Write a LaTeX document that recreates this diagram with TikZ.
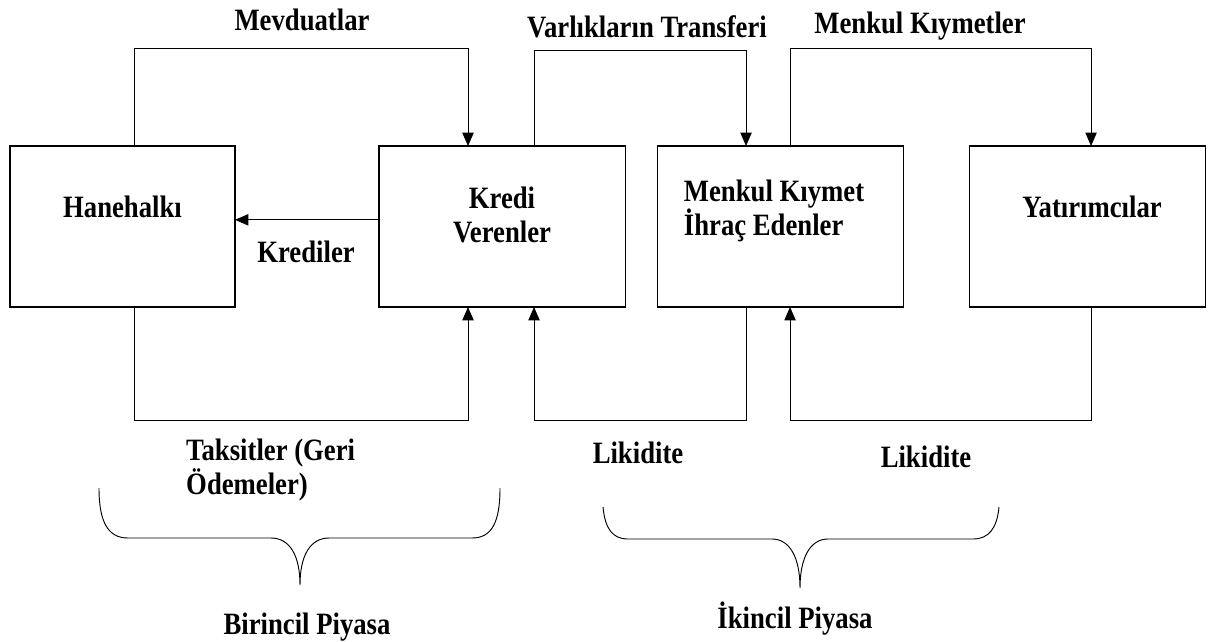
\documentclass[tikz,border=0pt]{standalone}
\usepackage{fontspec}
\setmainfont{Liberation Serif}[FakeStretch=0.86]
\usetikzlibrary{positioning,arrows.meta}

\tikzstyle{bigfont} = [font=\fontsize{26.5}{29}\selectfont\bfseries]
\tikzstyle{actor} = [rectangle, draw, line width=0.9pt, outer sep=0pt, minimum height=4.83cm]
\tikzstyle{actortxt} = [bigfont, inner sep=0pt]
\tikzstyle{flowtxt} = [bigfont, inner sep=0pt]
\tikzstyle{flow} = [draw, line width=0.8pt, -{Triangle[length=0.4cm,width=0.34cm]}]
\tikzstyle{bracket} = [draw, line width=0.8pt]

\begin{document}
\begin{tikzpicture}[x=0.03cm, y=-0.03cm]
      \useasboundingbox (0,0) rectangle (1213,641);

      %%%%%%%%%%%%%%%%%%%%%%%%%%%%%%%%%%%%%%%%%%
      % BOXES
      %%%%%%%%%%%%%%%%%%%%%%%%%%%%%%%%%%%%%%%%%%
      \node[actor, minimum width=6.75cm] (hane) at (122.5,226.5) {};
      \node[actor, minimum width=7.38cm, right= 4.32cm of hane] (kredi) {};
      \node[actor, minimum width=7.38cm, right= 0.96cm of kredi] (menkul) {};
      \node[actor, minimum width=7.08cm, right= 1.98cm of menkul] (yatir) {};

      \node[actortxt] (hanetxt) at ([yshift=0.6cm]hane.center) {Hanehalkı};
      \node[actortxt, align=center] (kreditxt) at ([yshift=0.36cm]kredi.center) {Kredi\\Verenler};
      \node[actortxt, align=left] (menkultxt) at ([xshift=-0.18cm, yshift=0.48cm]menkul.center) {Menkul Kıymet\\İhraç Edenler};
      \node[actortxt] (yatirtxt) at ([xshift=0.15cm, yshift=0.6cm]yatir.center) {Yatırımcılar};

      %%%%%%%%%%%%%%%%%%%%%%%%%%%%%%%%%%%%%%%%%%
      % FLOWS ON TOP
      %%%%%%%%%%%%%%%%%%%%%%%%%%%%%%%%%%%%%%%%%%
      \draw[flow] ([xshift=0.345cm]hane.north) -- ++(0,-98) -| ([xshift=-1.02cm]kredi.north);
      \draw[flow] ([xshift=0.96cm]kredi.north) -- ++(0,-96) -| ([xshift=-1.02cm]menkul.north);
      \draw[flow] ([xshift=0.3cm]menkul.north) -- ++(0,-98) -| ([xshift=0.12cm]yatir.north);
      \draw[flow] ([yshift=0.2cm]kredi.west) -- ([yshift=0.2cm]hane.east);

      \node[flowtxt] (mevduat) at (302,20) {Mevduatlar};
      \node[flowtxt] (varlik) at (647,27) {Varlıkların Transferi};
      \node[flowtxt] (menkulk) at (920,26) {Menkul Kıymetler};
      \node[flowtxt] (krediler) at (306,252) {Krediler};

      %%%%%%%%%%%%%%%%%%%%%%%%%%%%%%%%%%%%%%%%%%
      % FLOWS BELOW
      %%%%%%%%%%%%%%%%%%%%%%%%%%%%%%%%%%%%%%%%%%
      \draw[flow] ([xshift=0.345cm]hane.south) -- ++(0,113) -| ([xshift=-1.02cm]kredi.south);
      \draw[flow] ([xshift=-1.02cm]menkul.south) -- ++(0,113) -| ([xshift=0.96cm]kredi.south);
      \draw[flow] ([xshift=0.12cm]yatir.south) -- ++(0,113) -| ([xshift=0.3cm]menkul.south);

      \node[flowtxt, align=left, anchor=west] (taksit) at (186,470) {Taksitler (Geri\\Ödemeler)};
      \node[flowtxt] (likidite1) at (638,453) {Likidite};
      \node[flowtxt] (likidite2) at (926,457) {Likidite};

      %%%%%%%%%%%%%%%%%%%%%%%%%%%%%%%%%%%%%%%%%%
      % MARKETS
      %%%%%%%%%%%%%%%%%%%%%%%%%%%%%%%%%%%%%%%%%%
      \draw[bracket] (99,488) .. controls (99,522) and (108,538) .. (128,538) -- (271,538)
            .. controls (290,538) and (300,556) .. (300,585)
            .. controls (300,556) and (310,538) .. (329,538) -- (472,538)
            .. controls (492,538) and (500,522) .. (500,488);
      \draw[bracket] (603,507) .. controls (605,528) and (612,539) .. (628,539) -- (772,539)
            .. controls (790,539) and (800,558) .. (800,588)
            .. controls (800,558) and (810,539) .. (828,539) -- (973,539)
            .. controls (989,539) and (997,528) .. (999,507);

      \node[flowtxt] (birincil) at (307,627) {Birincil Piyasa};
      \node[flowtxt] (ikincil) at (795,619) {İkincil Piyasa};
\end{tikzpicture}
\end{document}
